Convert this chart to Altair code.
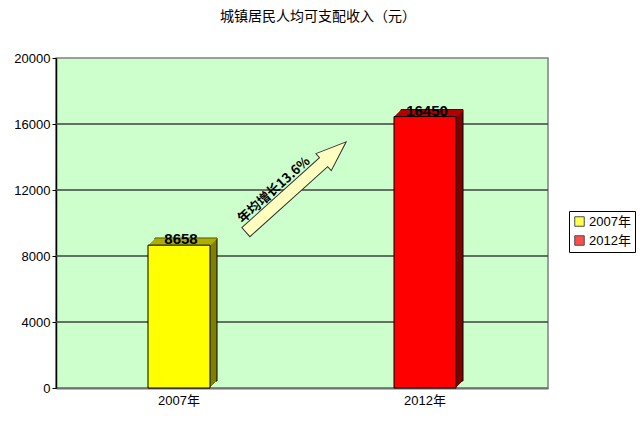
import altair as alt
import pandas as pd

# ---- data ----
categories = ["2007年", "2012年"]
values = [8658, 16450]
front_colors = ["#FFFF00", "#FF0000"]
top_colors = ["#CCCC00", "#CC0000"]
side_colors = ["#808000", "#800000"]
y_ticks = [0, 4000, 8000, 12000, 16000, 20000]
grid_values = [4000, 8000, 12000, 16000]
title_text = "城镇居民人均可支配收入（元）"
growth_label = "年均增长13.6%"

df = pd.DataFrame({
    "cat": categories,
    "value": values,
    "side": side_colors,
    "top": top_colors,
    "label": [str(v) for v in values],
})
grid_df = pd.DataFrame({"v": grid_values})
ann_df = pd.DataFrame({"text": [growth_label]})

W, H = 492, 330
BAR = 62
DEPTH = 7
FONT = "Liberation Sans, Noto Sans CJK SC"

x_enc = alt.X(
    "cat:N",
    sort=categories,
    scale=alt.Scale(domain=categories, paddingInner=0, paddingOuter=0),
    axis=alt.Axis(title=None, labelAngle=0, ticks=False, labelFontSize=13,
                  labelFont=FONT, labelColor="black", labelPadding=6,
                  domainColor="#707070", domainWidth=2),
)
y_enc = alt.Y(
    "value:Q",
    scale=alt.Scale(domain=[0, 20000], nice=False),
    axis=alt.Axis(title=None, values=y_ticks, grid=False, labelFontSize=13,
                  labelFont=FONT, labelColor="black", tickColor="black",
                  tickSize=4, domainColor="black", domainWidth=1.5,
                  labelPadding=2, format="d"),
)

base = alt.Chart(df).encode(x=x_enc, y=y_enc)

grid = alt.Chart(grid_df).mark_rule(color="#404040", strokeWidth=1.5).encode(
    y=alt.Y("v:Q")
)

layers = [grid]
# back outline
layers.append(base.mark_bar(size=BAR, xOffset=DEPTH, yOffset=-DEPTH,
                            stroke="black", strokeWidth=1).encode(
    fill=alt.Fill("side:N", scale=None)))
for i in range(DEPTH - 1, 0, -1):
    layers.append(base.mark_bar(size=BAR, xOffset=i, yOffset=-i).encode(
        fill=alt.Fill("side:N", scale=None)))
for i in range(DEPTH, 0, -1):
    layers.append(base.mark_tick(size=BAR, thickness=1.2, xOffset=i,
                                 yOffset=-i + 0.6).encode(
        color=alt.Color("top:N", scale=None)))

front = base.mark_bar(size=BAR, stroke="black", strokeWidth=1, opacity=1).encode(
    color=alt.Color(
        "cat:N",
        scale=alt.Scale(domain=categories, range=front_colors),
        legend=alt.Legend(
            title=None, orient="none", legendX=513, legendY=153,
            strokeColor="black", fillColor="white", padding=4,
            symbolType="square", symbolSize=90, symbolStrokeColor="black",
            symbolStrokeWidth=1, symbolOpacity=1, labelFontSize=13,
            labelFont=FONT, labelColor="black", rowPadding=4, labelOffset=3,
        ),
    )
)
layers.append(front)

labels = base.mark_text(baseline="alphabetic", dy=-1, dx=2, fontSize=15,
                        fontWeight="bold", font=FONT, color="black").encode(
    text="label:N")
layers.append(labels)

arrow_path = ("M-1,-0.09 L0.55,-0.09 L0.55,-0.17 L1,0 L0.55,0.17 "
              "L0.55,0.09 L-1,0.09 Z")
arrow = alt.Chart(ann_df).mark_point(
    shape=arrow_path, size=18225, angle=318, filled=True, fill="#FFFFC0",
    stroke="#333333", strokeWidth=1, opacity=1,
).encode(x=alt.value(240), y=alt.value(129))
ann_text = alt.Chart(ann_df).mark_text(
    angle=318, fontSize=13, fontWeight="bold", font="Noto Sans CJK SC",
    color="black", align="center", baseline="middle",
).encode(x=alt.value(218), y=alt.value(132), text="text:N")
layers += [arrow, ann_text]

chart = alt.layer(*layers).properties(
    width=W, height=H,
    title=alt.TitleParams(title_text, fontSize=14, font="Noto Sans CJK SC",
                          fontWeight="normal", anchor="middle", dx=16,
                          offset=28, color="black"),
    autosize=alt.AutoSizeParams(type="none"),
    padding={"left": 48, "top": 50, "right": 88, "bottom": 22},
).configure_view(fill="#CCFFCC", stroke="#808080", strokeWidth=1.5)

chart.save("out.html", embed_options={"renderer": "svg", "actions": False})
